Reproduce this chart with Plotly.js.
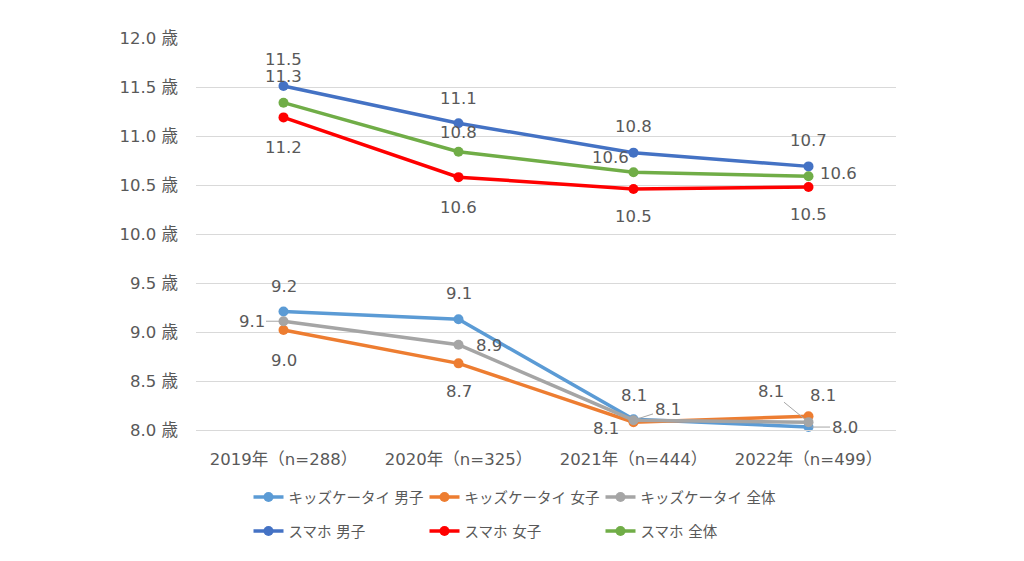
<!DOCTYPE html>
<html>
<head>
<meta charset="utf-8">
<script src="https://cdn.plot.ly/plotly-3.0.1.min.js"></script>
<style>html,body{margin:0;padding:0;background:#fff;}#chart{width:1024px;height:561px;}</style>
</head>
<body>
<div id="chart"></div>
<script>
const categories = ["2019年（n=288）", "2020年（n=325）", "2021年（n=444）", "2022年（n=499）"];
const seriesNames = ["キッズケータイ 男子", "キッズケータイ 女子", "キッズケータイ 全体", "スマホ 男子", "スマホ 女子", "スマホ 全体"];
const kidsBoys  = [9.21, 9.13, 8.11, 8.03];
const kidsGirls = [9.02, 8.68, 8.08, 8.14];
const kidsAll   = [9.11, 8.87, 8.10, 8.08];
const smBoys    = [11.51, 11.13, 10.83, 10.69];
const smGirls   = [11.19, 10.58, 10.46, 10.48];
const smAll     = [11.34, 10.84, 10.63, 10.59];
const yTicks = [8.0, 8.5, 9.0, 9.5, 10.0, 10.5, 11.0, 11.5, 12.0];

const series = [kidsBoys, kidsGirls, kidsAll, smBoys, smGirls, smAll];
const colors = ["#5B9BD5", "#ED7D31", "#A5A5A5", "#4472C4", "#FF0000", "#70AD47"];
const legendIds = ["legend", "legend", "legend", "legend2", "legend2", "legend2"];

// label placement: [xshift, yshift] in px or arrow {ax, ay}
const labelPos = [
  [[0, 25], [0, 26], [0, 24], {ax: 36, ay: 0}],
  [[0, -30], [0, -28], [-28, -6], [14, 21]],
  [{ax: -32, ay: 0}, [30, -1], {ax: 34, ay: -11}, {ax: -38, ay: -31}],
  [[0, 27], [0, 25], [0, 26], [0, 26]],
  [[0, -30], [0, -30], [0, -28], [0, -28]],
  [[0, 26], [0, 19], [-23, 15], [30, 3]]
];

const labelFont = {family: "DejaVu Sans, Noto Sans CJK JP, sans-serif", size: 16.5, color: "#595959"};

const traces = series.map((vals, i) => ({
  type: "scatter", mode: "lines+markers",
  x: categories, y: vals, name: seriesNames[i],
  line: {color: colors[i], width: 3.5},
  marker: {color: colors[i], size: 10},
  legend: legendIds[i], cliponaxis: false,
  hoverinfo: "x+y+name"
}));

const annotations = [];
series.forEach((vals, i) => {
  vals.forEach((v, j) => {
    const p = labelPos[i][j];
    const a = {
      x: categories[j], y: v, xref: "x", yref: "y",
      text: v.toFixed(1), font: labelFont
    };
    if (Array.isArray(p)) {
      a.showarrow = false; a.xshift = p[0]; a.yshift = p[1];
    } else {
      a.showarrow = true; a.ax = p.ax; a.ay = p.ay; a.arrowhead = 0;
      a.arrowwidth = 1; a.arrowcolor = "#A6A6A6"; a.standoff = 3;
    }
    annotations.push(a);
  });
});

const legendBase = {
  orientation: "h", x: 0.075, xanchor: "left", yanchor: "middle",
  font: {family: "DejaVu Sans, Noto Sans CJK JP, sans-serif", size: 14.5, color: "#595959"},
  entrywidth: 131, entrywidthmode: "pixels",
  bgcolor: "rgba(0,0,0,0)", itemclick: false, itemdoubleclick: false
};

const layout = {
  width: 1024, height: 561,
  margin: {l: 196, r: 128, t: 38, b: 131, autoexpand: false},
  paper_bgcolor: "#ffffff", plot_bgcolor: "#ffffff",
  font: {family: "DejaVu Sans, Noto Sans CJK JP, sans-serif", size: 16, color: "#595959"},
  showlegend: true,
  xaxis: {
    type: "category", range: [-0.5, 3.5],
    showgrid: false, showline: true, linecolor: "#D9D9D9", linewidth: 1,
    ticks: "", tickfont: {size: 16.5, color: "#595959"}, ticklabelstandoff: 14,
    fixedrange: true
  },
  yaxis: {
    range: [8, 12], tickvals: yTicks,
    ticktext: yTicks.map(v => v.toFixed(1) + " 歳"),
    showgrid: true, gridcolor: "#D9D9D9", gridwidth: 1,
    zeroline: false, showline: false, ticks: "",
    tickfont: {size: 16.5, color: "#595959"}, ticklabelstandoff: 17,
    fixedrange: true
  },
  legend: Object.assign({}, legendBase, {y: -0.171}),
  legend2: Object.assign({}, legendBase, {y: -0.258}),
  annotations: annotations
};

Plotly.newPlot("chart", traces, layout, {displayModeBar: false, staticPlot: true});
</script>
</body>
</html>
